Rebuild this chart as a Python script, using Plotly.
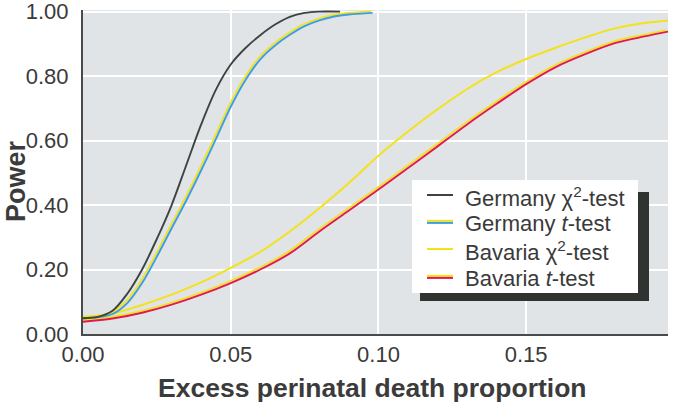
import plotly.graph_objects as go

# ---------------- data ----------------
germany_chi_x = [0, 0.005, 0.010, 0.015, 0.020, 0.025, 0.030, 0.035, 0.040, 0.045, 0.050,
                 0.055, 0.060, 0.065, 0.070, 0.075, 0.080, 0.087]
germany_chi_y = [0.049, 0.053, 0.072, 0.125, 0.200, 0.295, 0.400, 0.525, 0.650, 0.758, 0.836,
                 0.887, 0.927, 0.960, 0.984, 0.996, 1.0, 1.0]

germany_t_x = [0, 0.005, 0.010, 0.015, 0.020, 0.025, 0.030, 0.035, 0.040, 0.045, 0.050,
               0.055, 0.060, 0.065, 0.070, 0.075, 0.080, 0.085, 0.090, 0.098]
germany_t_y = [0.049, 0.052, 0.062, 0.096, 0.158, 0.240, 0.328, 0.415, 0.508, 0.605, 0.705,
               0.788, 0.852, 0.895, 0.928, 0.955, 0.973, 0.985, 0.991, 0.996]

bavaria_chi_x = [0, 0.010, 0.020, 0.030, 0.040, 0.050, 0.060, 0.070, 0.080, 0.090, 0.100,
                 0.110, 0.120, 0.130, 0.140, 0.150, 0.160, 0.170, 0.180, 0.190, 0.198]
bavaria_chi_y = [0.043, 0.063, 0.090, 0.122, 0.160, 0.205, 0.255, 0.318, 0.390, 0.468, 0.553,
                 0.628, 0.697, 0.760, 0.812, 0.853, 0.888, 0.920, 0.948, 0.965, 0.972]

bavaria_t_x = [0, 0.010, 0.020, 0.030, 0.040, 0.050, 0.060, 0.070, 0.080, 0.090, 0.100,
               0.110, 0.120, 0.130, 0.140, 0.150, 0.160, 0.170, 0.180, 0.190, 0.198]
bavaria_t_y = [0.038, 0.048, 0.066, 0.091, 0.122, 0.158, 0.200, 0.250, 0.318, 0.383, 0.448,
               0.515, 0.582, 0.650, 0.714, 0.775, 0.828, 0.868, 0.902, 0.923, 0.938]

x_tick_vals = [0, 0.05, 0.10, 0.15]
x_tick_text = ["0.00", "0.05", "0.10", "0.15"]
x_last_tick_val = 0.20
x_last_tick_text = "0.20"
y_tick_vals = [0, 0.2, 0.4, 0.6, 0.8, 1.0]
y_tick_text = ["0.00", "0.20", "0.40", "0.60", "0.80", "1.00"]

legend_labels = ["Germany χ<sup>2</sup>-test", "Germany <i>t</i>-test",
                 "Bavaria χ<sup>2</sup>-test", "Bavaria <i>t</i>-test"]

# ---------------- styles ----------------
W, H = 674, 410
ML, MR, MT, MB = 83, 6, 10, 76
PW, PH = W - ML - MR, H - MT - MB

C_BLACK = "#3d4340"
C_BLUE = "#3b9ee2"
C_YEL = "#f3e21a"
C_RED = "#e3184c"
TXT = "#3a3a3a"
NARROW = "Liberation Sans Narrow, Arial Narrow, sans-serif"

GHOST_DX = -0.0005   # misregistration offset of the yellow ink (style)
GHOST_DY = 0.005


def px(xp):
    return (xp - ML) / PW


def py(yp):
    return (H - MB - yp) / PH


fig = go.Figure()


def add_line(xs, ys, color, width=1.9, ghost=False):
    if ghost:
        fig.add_trace(go.Scatter(x=[v + GHOST_DX for v in xs], y=[v + GHOST_DY for v in ys],
                                 mode="lines",
                                 line=dict(color=C_YEL, width=1.7, shape="spline", smoothing=0.9),
                                 hoverinfo="skip"))
    fig.add_trace(go.Scatter(x=xs, y=ys, mode="lines",
                             line=dict(color=color, width=width, shape="spline", smoothing=0.9)))


add_line(bavaria_chi_x, bavaria_chi_y, C_YEL, width=2)
add_line(bavaria_t_x, bavaria_t_y, C_RED, ghost=True)
add_line(germany_t_x, germany_t_y, C_BLUE, ghost=True)
add_line(germany_chi_x, germany_chi_y, C_BLACK)

fig.update_layout(
    width=W, height=H,
    margin=dict(l=ML, r=MR, t=MT, b=MB),
    paper_bgcolor="white", plot_bgcolor="#e1e4e6",
    showlegend=False,
)
fig.update_xaxes(range=[0, 0.198], tickvals=x_tick_vals, ticktext=x_tick_text,
                 showgrid=True, gridcolor="white", gridwidth=2, zeroline=False,
                 showline=True, linecolor="#4a4a4a", linewidth=2, ticks="",
                 automargin=False, ticklabeloverflow="allow",
                 tickfont=dict(family=NARROW, size=22, color=TXT), ticklabelstandoff=0)
fig.update_yaxes(range=[0, 1.005], tickvals=y_tick_vals, ticktext=y_tick_text,
                 showgrid=True, gridcolor="white", gridwidth=2, zeroline=False,
                 showline=True, linecolor="#4a4a4a", linewidth=2, ticks="",
                 automargin=False, ticklabeloverflow="allow",
                 tickfont=dict(family=NARROW, size=22, color=TXT), ticklabelstandoff=8)

ann = []
ann.append(dict(x=x_last_tick_val, y=0, xref="x", yref="paper", text=x_last_tick_text,
                showarrow=False, xanchor="right", yanchor="top", xshift=6, yshift=-6,
                font=dict(family=NARROW, size=22, color=TXT)))
ann.append(dict(x=px(372), y=py(388), xref="paper", yref="paper",
                text="<b>Excess perinatal death proportion</b>", showarrow=False,
                xanchor="center", yanchor="middle",
                font=dict(family=NARROW, size=26.5, color="#3b3b3b")))
ann.append(dict(x=px(16), y=py(181), xref="paper", yref="paper", text="<b>Power</b>",
                showarrow=False, textangle=-90, xanchor="center", yanchor="middle",
                font=dict(family=NARROW, size=27, color="#3b3b3b")))

shapes = []
# legend shadow and box
shapes.append(dict(type="rect", xref="paper", yref="paper", x0=px(420), x1=px(649),
                   y0=py(301), y1=py(192), fillcolor="#2f3430", line=dict(width=0), layer="above"))
shapes.append(dict(type="rect", xref="paper", yref="paper", x0=px(412), x1=px(638),
                   y0=py(293), y1=py(180), fillcolor="white", line=dict(width=0), layer="above"))

rows = [195, 222, 249, 277]
samples = [[(C_BLACK, 0)], [(C_YEL, -1.2), (C_BLUE, 0.9)], [(C_YEL, 0)], [(C_YEL, -1.2), (C_RED, 0.9)]]
for r, label, samp in zip(rows, legend_labels, samples):
    for col, off in samp:
        shapes.append(dict(type="line", xref="paper", yref="paper", x0=px(427), x1=px(453),
                           y0=py(r + off), y1=py(r + off), line=dict(color=col, width=2), layer="above"))
    ann.append(dict(x=px(463), y=py(r + 1.5), xref="paper", yref="paper", text=label,
                    showarrow=False, xanchor="left", yanchor="middle",
                    font=dict(family=NARROW, size=22, color=TXT)))

fig.update_layout(annotations=ann, shapes=shapes)
fig.write_html("out.html", config={"displayModeBar": False},
               post_script="document.body.style.margin='0';")
